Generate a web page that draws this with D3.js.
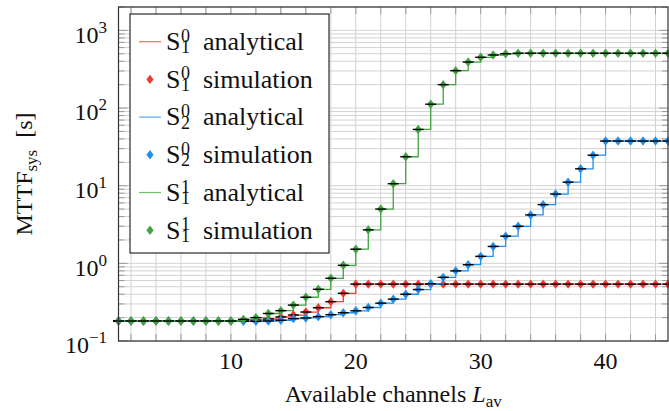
<!DOCTYPE html>
<html>
<head>
<meta charset="utf-8">
<script src="https://cdn.jsdelivr.net/npm/d3@7"></script>
<style>
  body { margin: 0; background: #fff; }
  text { font-family: "Liberation Serif", "Times New Roman", serif; fill: #111; }
</style>
</head>
<body>
<div id="chart"></div>
<script>
// available channels L_av
var channels = [1,2,3,4,5,6,7,8,9,10,11,12,13,14,15,16,17,18,19,20,21,22,23,24,25,26,27,28,29,30,31,32,33,34,35,36,37,38,39,40,41,42,43,44,45];

// MTTF_sys [s] per scheme
var s10 = [0.181,0.181,0.181,0.181,0.181,0.181,0.181,0.181,0.181,0.181,0.182,0.186,0.192,0.204,0.216,0.236,0.268,0.321,0.411,0.54,
           0.54,0.54,0.54,0.54,0.54,0.54,0.54,0.54,0.54,0.54,0.54,0.54,0.54,0.54,0.54,0.54,0.54,0.54,0.54,0.54,0.54,0.54,0.54,0.54,0.54];
var s20 = [0.181,0.181,0.181,0.181,0.181,0.181,0.181,0.181,0.181,0.181,0.179,0.179,0.181,0.185,0.194,0.198,0.206,0.218,0.231,0.245,
           0.27,0.307,0.346,0.40,0.46,0.545,0.66,0.80,0.96,1.23,1.65,2.24,3.0,4.2,5.7,7.8,11.1,16.5,24.7,37.6,37.6,37.6,37.6,37.6,37.6];
var s11 = [0.181,0.181,0.181,0.181,0.181,0.181,0.181,0.181,0.181,0.181,0.19,0.20,0.226,0.246,0.29,0.366,0.463,0.642,0.944,1.52,
           2.7,5.0,10.6,23.6,53,112,200,303,391,450,482,500,508,508,508,508,508,508,508,508,508,508,508,508,508];

var xTickLabels = [10, 20, 30, 40];
var yTickValues = [0.1, 1, 10, 100, 1000];
var yTickExp = ["\u22121", "0", "1", "2", "3"];

var series = [
  {name: "s10", values: s10, color: "#f03a32", sub: "1", sup: "0"},
  {name: "s20", values: s20, color: "#1f8ff0", sub: "2", sup: "0"},
  {name: "s11", values: s11, color: "#3fa53f", sub: "1", sup: "1"}
];

var W = 669, H = 411;
var svg = d3.select("#chart").append("svg")
    .attr("width", W)
    .attr("height", H),
    plot = {left: 118.5, right: 668, top: 7, bottom: 341};

var x = d3.scaleLinear().domain([1, 45]).range([plot.left, plot.right]);
var y = d3.scaleLog().domain([0.1, 2000]).range([plot.bottom, plot.top]);

var minorX = d3.range(2, 45, 2);
var minorY = [];
[-1, 0, 1, 2, 3].forEach(function(k) {
  for (var m = 1; m <= 9; m++) {
    var v = m * Math.pow(10, k);
    if (v >= 0.1 && v <= 2000) minorY.push(v);
  }
});

// grid
var grid = svg.append("g").attr("stroke", "#d2d2d2").attr("stroke-width", 1);
grid.selectAll(".gx").data(minorX).enter().append("line")
    .attr("x1", function(d) { return x(d); }).attr("x2", function(d) { return x(d); })
    .attr("y1", plot.top).attr("y2", plot.bottom);
grid.selectAll(".gy").data(minorY).enter().append("line")
    .attr("x1", plot.left).attr("x2", plot.right)
    .attr("y1", function(d) { return y(d); }).attr("y2", function(d) { return y(d); });

// inward ticks on all four sides
var tickLen = 7;
var ticks = svg.append("g").attr("stroke", "#9a9a9a").attr("stroke-width", 1);
minorX.forEach(function(d) {
  ticks.append("line").attr("x1", x(d)).attr("x2", x(d)).attr("y1", plot.bottom).attr("y2", plot.bottom - tickLen);
  ticks.append("line").attr("x1", x(d)).attr("x2", x(d)).attr("y1", plot.top).attr("y2", plot.top + tickLen);
});
minorY.forEach(function(d) {
  var len = yTickValues.indexOf(d) >= 0 ? 9 : 6;
  ticks.append("line").attr("x1", plot.left).attr("x2", plot.left + len).attr("y1", y(d)).attr("y2", y(d));
  ticks.append("line").attr("x1", plot.right).attr("x2", plot.right - len).attr("y1", y(d)).attr("y2", y(d));
});

// curves
var line = d3.line()
    .x(function(d, i) { return x(channels[i]); })
    .y(function(d) { return y(d); })
    .curve(d3.curveStepAfter);

var diamond = "M0,-4.7L3.6,0L0,4.7L-3.6,0Z";

series.forEach(function(s) {
  var g = svg.append("g").attr("class", s.name);
  g.append("path")
      .datum(s.values)
      .attr("d", line)
      .attr("fill", "none")
      .attr("stroke", s.color)
      .attr("stroke-width", 1.3);
  g.selectAll(".mk").data(s.values).enter().append("path")
      .attr("class", "mk")
      .attr("transform", function(d, i) { return "translate(" + x(channels[i]) + "," + y(d) + ")"; })
      .attr("d", diamond)
      .attr("fill", s.color);
  g.selectAll(".dash").data(s.values).enter().append("line")
      .attr("x1", function(d, i) { return x(channels[i]) - 5.5; })
      .attr("x2", function(d, i) { return x(channels[i]) + 5.5; })
      .attr("y1", function(d) { return y(d); })
      .attr("y2", function(d) { return y(d); })
      .attr("stroke", "#000")
      .attr("stroke-width", 1.4);
});

// frame
svg.append("rect")
    .attr("x", plot.left).attr("y", plot.top)
    .attr("width", plot.right - plot.left).attr("height", plot.bottom - plot.top)
    .attr("fill", "none").attr("stroke", "#333").attr("stroke-width", 1.2);

// tick labels
svg.selectAll(".xl").data(xTickLabels).enter().append("text")
    .attr("x", function(d) { return x(d); })
    .attr("y", 369)
    .attr("text-anchor", "middle")
    .style("font-size", "24px")
    .text(function(d) { return d; });

yTickValues.forEach(function(d, i) {
  var t = svg.append("text")
      .attr("x", 107)
      .attr("y", y(d) + 12.4)
      .attr("text-anchor", "end")
      .style("font-size", "24px");
  t.append("tspan").text("10");
  t.append("tspan").attr("dy", -10).style("font-size", "17px").text(yTickExp[i]);
});

// axis titles
var xt = svg.append("text")
    .attr("x", (plot.left + plot.right) / 2)
    .attr("y", 402)
    .attr("text-anchor", "middle")
    .style("font-size", "24px");
xt.append("tspan").text("Available channels ");
xt.append("tspan").style("font-style", "italic").text("L");
xt.append("tspan").attr("dy", 5).style("font-size", "17px").text("av");

var yt = svg.append("text")
    .attr("transform", "translate(32,174) rotate(-90)")
    .attr("text-anchor", "middle")
    .style("font-size", "24px");
yt.append("tspan").text("MTTF");
yt.append("tspan").attr("dy", 5).style("font-size", "17px").text("sys");
yt.append("tspan").attr("dy", -5).text("\u2002[s]");

// legend
var legendEntries = [];
series.forEach(function(s) {
  legendEntries.push({s: s, kind: "analytical"});
  legendEntries.push({s: s, kind: "simulation"});
});

var lg = svg.append("g");
lg.append("rect")
    .attr("x", 130).attr("y", 14)
    .attr("width", 199).attr("height", 239)
    .attr("fill", "#fff").attr("stroke", "#000").attr("stroke-width", 1);

var rows = lg.selectAll(".row").data(legendEntries).enter().append("g")
    .attr("transform", function(d, i) { return "translate(0," + (41.7 + i * 37.7) + ")"; });

rows.filter(function(d) { return d.kind === "analytical"; }).append("line")
    .attr("x1", 139).attr("x2", 161)
    .attr("stroke", function(d) { return d.s.color; })
    .attr("stroke-width", 1.2)
    .attr("stroke-opacity", 0.75);
rows.filter(function(d) { return d.kind === "simulation"; }).append("path")
    .attr("transform", "translate(150,0)")
    .attr("d", diamond)
    .attr("fill", function(d) { return d.s.color; });

// S with stacked super/subscript, then the label, all in one text
var lt = rows.append("text").attr("x", 166).attr("y", 8.3).style("font-size", "26px");
lt.append("tspan").text("S");
lt.append("tspan").attr("x", 181).attr("y", 0).style("font-size", "18px").text(function(d) { return d.s.sup; });
lt.append("tspan").attr("x", 181).attr("y", 11.6).style("font-size", "18px").text(function(d) { return d.s.sub; });
lt.append("tspan").attr("x", 203).attr("y", 8.3).text(function(d) { return d.kind; });
</script>
</body>
</html>
